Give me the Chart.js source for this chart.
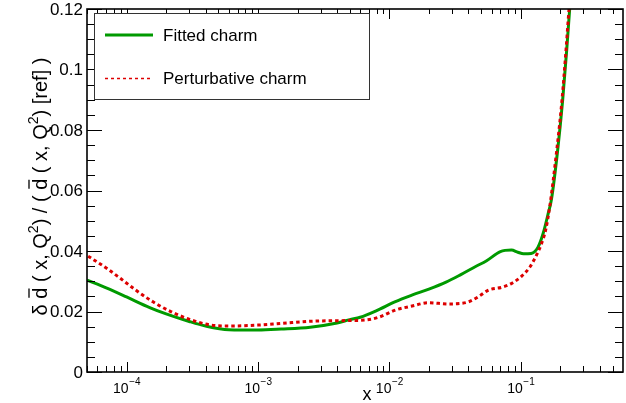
<!DOCTYPE html>
<html>
<head>
<meta charset="utf-8">
<script src="https://cdn.jsdelivr.net/npm/chart.js@4.4.1/dist/chart.umd.min.js"></script>
<style>
  html, body { margin: 0; padding: 0; background: #fff; }
  #wrap { width: 626px; height: 403px; position: relative; }
</style>
</head>
<body>
<div id="wrap"><canvas id="c"></canvas></div>
<script>
// data
const fittedX = [5e-5, 7e-5, 1e-4, 1.5e-4, 2e-4, 3e-4, 4e-4, 6e-4, 1e-3, 1.5e-3, 2.5e-3, 4e-3, 5e-3, 6e-3, 8e-3,
  0.011, 0.015, 0.02, 0.027, 0.035, 0.045, 0.055, 0.07, 0.085, 0.095, 0.105, 0.12, 0.135, 0.148, 0.162,
  0.171, 0.191, 0.2084, 0.2237, 0.2357, 0.245];
const fittedY = [0.0304, 0.0278, 0.0248, 0.0213, 0.0192, 0.0167, 0.0152, 0.0140, 0.0139, 0.0142, 0.0148, 0.0162, 0.0173, 0.0181, 0.0203,
  0.0232, 0.0255, 0.0274, 0.0297, 0.0322, 0.0348, 0.0368, 0.0398, 0.0403, 0.0396, 0.0391, 0.0392, 0.0412, 0.0458, 0.0525,
  0.0569, 0.0734, 0.0899, 0.1064, 0.1200, 0.128];

const pertX = [5.1e-5, 7.05e-5, 8.64e-5, 1.156e-4, 1.59e-4, 2.19e-4, 3.11e-4, 4.41e-4, 6.25e-4, 9.95e-4, 1.54e-3, 2.6e-3,
  4.66e-3, 6.6e-3, 8.3e-3, 0.01115, 0.0149, 0.0199, 0.0282, 0.0357, 0.0401, 0.0477, 0.0569, 0.0716, 0.0853,
  0.1016, 0.1178, 0.132, 0.144, 0.1546, 0.166, 0.188, 0.206, 0.221, 0.233, 0.242];
const pertY = [0.0383, 0.0343, 0.0315, 0.0273, 0.0232, 0.0199, 0.0172, 0.0155, 0.0152, 0.0155, 0.0161, 0.0168,
  0.0170, 0.0172, 0.0181, 0.0205, 0.0218, 0.0229, 0.0225, 0.0227, 0.0232, 0.0249, 0.0271, 0.0280, 0.0293,
  0.0317, 0.0348, 0.0387, 0.0425, 0.0469, 0.0545, 0.0734, 0.0899, 0.1064, 0.1200, 0.128];

const yTicks = [0, 0.02, 0.04, 0.06, 0.08, 0.1, 0.12];
const yTickLabels = ['0', '0.02', '0.04', '0.06', '0.08', '0.1', '0.12'];
const yMinorStep = 0.005;
const xMajor = [1e-4, 1e-3, 1e-2, 1e-1];
const xMin = 5e-5, xMax = 0.6;

const GREEN = '#009a00';
const RED = '#dd0000';
const FONT = '"Liberation Sans", Arial, Helvetica, sans-serif';

const toPts = (xs, ys) => xs.map((x, i) => ({ x: x, y: ys[i] }));

// ROOT-like frame, inward ticks, labels, legend
const rootStyle = {
  id: 'rootStyle',
  afterDatasetsDraw(chart) {
    const ctx = chart.ctx;
    const xs = chart.scales.x, ys = chart.scales.y;
    const { left, right, top, bottom } = chart.chartArea;
    ctx.save();
    ctx.strokeStyle = '#000';
    ctx.lineWidth = 1;

    // y ticks (left and right)
    for (let i = 0; i * yMinorStep <= 0.12 + 1e-9; i++) {
      const py = Math.round(ys.getPixelForValue(i * yMinorStep)) + 0.5;
      const len = i % 4 === 0 ? 15 : 8;
      ctx.beginPath();
      ctx.moveTo(left, py); ctx.lineTo(left + len, py);
      ctx.moveTo(right, py); ctx.lineTo(right - len, py);
      ctx.stroke();
    }
    // x ticks (bottom and top)
    for (let d = -5; d <= 0; d++) {
      for (let m = 1; m <= 9; m++) {
        const v = m * Math.pow(10, d);
        if (v < xMin || v > xMax) continue;
        const px = Math.round(xs.getPixelForValue(v)) + 0.5;
        const lenB = m === 1 ? 10 : 6;
        const lenT = m === 1 ? 10 : 5;
        ctx.beginPath();
        ctx.moveTo(px, bottom); ctx.lineTo(px, bottom - lenB);
        ctx.moveTo(px, top); ctx.lineTo(px, top + lenT);
        ctx.stroke();
      }
    }
    // frame
    ctx.lineWidth = 1.6;
    ctx.strokeRect(left, top, right - left, bottom - top);

    // y tick labels
    ctx.fillStyle = '#000';
    ctx.font = '17px ' + FONT;
    ctx.textAlign = 'right';
    ctx.textBaseline = 'middle';
    yTicks.forEach((v, i) => {
      ctx.fillText(yTickLabels[i], left - 4, ys.getPixelForValue(v) + 1);
    });

    // x tick labels 10^n
    ctx.textAlign = 'left';
    ctx.textBaseline = 'alphabetic';
    xMajor.forEach(v => {
      const px = xs.getPixelForValue(v);
      const ex = String(Math.round(Math.log10(v))).replace('-', '\u2212');
      ctx.font = '14px ' + FONT;
      const wBase = ctx.measureText('10').width;
      ctx.font = '10px ' + FONT;
      const wExp = ctx.measureText(ex).width;
      const x0 = px - (wBase + wExp) / 2;
      ctx.font = '14px ' + FONT;
      ctx.fillText('10', x0, bottom + 21);
      ctx.font = '10px ' + FONT;
      ctx.fillText(ex, x0 + wBase + 0.5, bottom + 13);
    });

    // x title
    ctx.font = '18px ' + FONT;
    ctx.textAlign = 'center';
    ctx.fillText('x', 367, bottom + 28);

    // y title with overbars and superscripts
    const fs = 20;
    const segs = [
      { t: '\u03b4 ' }, { t: 'd', bar: true }, { t: ' ( x, Q' }, { t: '2', sup: true }, { t: ') / ( ' },
      { t: 'd', bar: true }, { t: ' ( x, Q' }, { t: '2', sup: true }, { t: ') [ref] )' }
    ];
    const fontOf = s => (s.sup ? Math.round(fs * 0.7) : fs) + 'px ' + FONT;
    let total = 0;
    segs.forEach(s => { ctx.font = fontOf(s); s.w = ctx.measureText(s.t).width; total += s.w; });
    ctx.save();
    ctx.translate(47, (top + bottom) / 2 - 4);
    ctx.rotate(-Math.PI / 2);
    ctx.textAlign = 'left';
    let u = -total / 2;
    segs.forEach(s => {
      ctx.font = fontOf(s);
      ctx.fillText(s.t, u, s.sup ? -fs * 0.45 : 0);
      if (s.bar) {
        ctx.lineWidth = 1.3;
        ctx.beginPath();
        ctx.moveTo(u + 1, -fs * 0.9);
        ctx.lineTo(u + s.w - 1, -fs * 0.9);
        ctx.stroke();
      }
      u += s.w;
    });
    ctx.restore();

    // legend box
    const lx = 94, ly = 13, lw = 275, lh = 86;
    ctx.fillStyle = '#fff';
    ctx.fillRect(lx, ly, lw, lh);
    ctx.strokeStyle = '#333';
    ctx.lineWidth = 1;
    ctx.strokeRect(lx + 0.5, ly + 0.5, lw, lh);

    ctx.strokeStyle = GREEN;
    ctx.lineWidth = 3;
    ctx.beginPath(); ctx.moveTo(105, 35); ctx.lineTo(153, 35); ctx.stroke();
    ctx.strokeStyle = RED;
    ctx.lineWidth = 1.5;
    ctx.setLineDash([3, 3]);
    ctx.beginPath(); ctx.moveTo(105, 78.5); ctx.lineTo(153, 78.5); ctx.stroke();
    ctx.setLineDash([]);

    ctx.fillStyle = '#000';
    ctx.font = '17px ' + FONT;
    ctx.textAlign = 'left';
    ctx.textBaseline = 'middle';
    ctx.fillText('Fitted charm', 163, 36);
    ctx.fillText('Perturbative charm', 163, 79);
    ctx.restore();
  }
};

new Chart(document.getElementById('c'), {
  type: 'line',
  data: {
    datasets: [
      { label: 'Fitted charm', data: toPts(fittedX, fittedY), borderColor: GREEN, borderWidth: 3,
        pointRadius: 0, cubicInterpolationMode: 'monotone', fill: false, clip: 0, order: 2 },
      { label: 'Perturbative charm', data: toPts(pertX, pertY), borderColor: RED, borderWidth: 3,
        borderDash: [3.5, 3], pointRadius: 0, cubicInterpolationMode: 'monotone', fill: false, clip: 0, order: 1 }
    ]
  },
  options: {
    responsive: true,
    maintainAspectRatio: false,
    animation: false,
    layout: { padding: { left: 87, right: 3, top: 9, bottom: 31 } },
    plugins: { legend: { display: false }, tooltip: { enabled: false } },
    scales: {
      x: {
        type: 'logarithmic', min: xMin, max: xMax,
        grid: { display: false }, border: { display: false },
        ticks: { display: false },
        afterFit: s => { s.height = 0; }
      },
      y: {
        type: 'linear', min: 0, max: 0.12,
        grid: { display: false }, border: { display: false },
        ticks: { display: false },
        afterFit: s => { s.width = 0; }
      }
    }
  },
  plugins: [rootStyle]
});
</script>
</body>
</html>
